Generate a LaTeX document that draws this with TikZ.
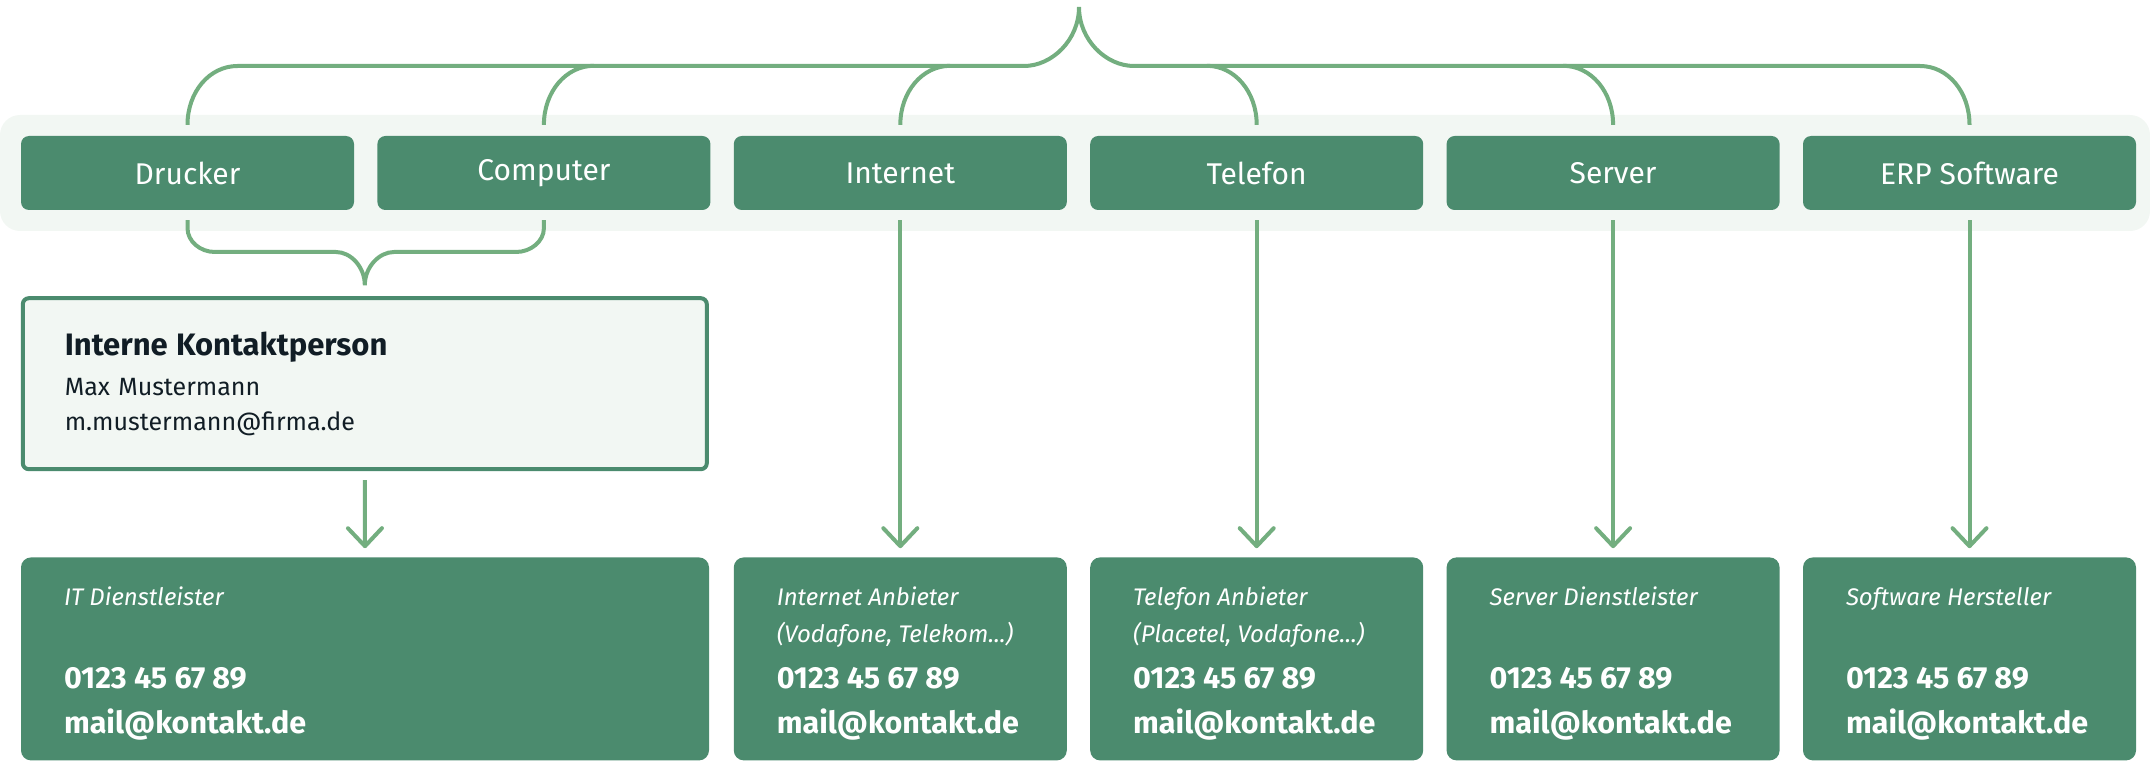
\documentclass[tikz,border=0pt]{standalone}
\usepackage{fontspec}
\setmainfont{Fira Sans}
\usetikzlibrary{positioning,arrows.meta}
\definecolor{boxGreen}{HTML}{4B8B6E}
\definecolor{lineGreen}{HTML}{73AE7F}
\definecolor{paleGreen}{HTML}{F2F7F3}
\definecolor{inkDark}{HTML}{111D25}
\newcommand{\boxGap}[0]{23pt}
\newcommand{\labelSize}[0]{\fontsize{30}{34}\selectfont}
\newcommand{\roleSize}[0]{\fontsize{24}{37}\selectfont}
\newcommand{\reachSize}[0]{\fontsize{30.5}{45}\selectfont}
\newcommand{\titleSize}[0]{\fontsize{31}{36}\selectfont}
\newcommand{\bodySize}[0]{\fontsize{25}{35}\selectfont}

\begin{document}
\begin{tikzpicture}[x=1pt, y=1pt]
  \tikzset{
    topic/.style={fill=boxGreen, text=white, rounded corners=8pt, minimum width=333pt,
      minimum height=74pt, inner sep=0pt, font=\labelSize},
    provider/.style={fill=boxGreen, rounded corners=10pt, minimum width=333pt,
      minimum height=203pt, inner sep=0pt},
    role/.style={text=white, anchor=base west, inner sep=0pt, align=left, font=\roleSize\itshape},
    reach/.style={text=white, anchor=base west, inner sep=0pt, align=left, font=\reachSize\bfseries},
    brace/.style={draw=lineGreen, line width=4pt},
    link/.style={draw=lineGreen, line width=4pt, -{Straight Barb[length=18pt, width=34pt, round]}}
  }
  \useasboundingbox (0,0) rectangle (2150,-762);
  \fill[paleGreen, rounded corners=20pt] (0,-115) rectangle (2150,-231);

  % topics
  \node[topic] (Drucker) at (187.5,-173) {Drucker};
  \node[topic, right=\boxGap of Drucker] (Computer) {Computer};
  \node[topic, right=\boxGap of Computer] (Internet) {Internet};
  \node[topic, right=\boxGap of Internet] (Telefon) {Telefon};
  \node[topic, right=\boxGap of Telefon] (Server) {Server};
  \node[topic, right=\boxGap of Server] (ERP) {ERP Software};

  % internal contact
  \node[fill=paleGreen, draw=boxGreen, line width=4pt, rounded corners=6pt, anchor=north west,
    minimum width=684pt, minimum height=171pt, inner xsep=42pt, text width=600pt,
    align=left, text=inkDark, font=\bodySize] (contact) at ([yshift=-86pt]Drucker.south west)
    {{\titleSize\bfseries Interne Kontaktperson}\\[5pt]Max Mustermann\\m.mustermann@firma.de};

  % providers
  \node[provider, minimum width=688pt, anchor=north west] (prov-1) at ([yshift=-86pt]contact.south west) {};
  \node[provider, below=347pt of Internet] (prov-2) {};
  \node[provider, below=347pt of Telefon] (prov-3) {};
  \node[provider, below=347pt of Server] (prov-4) {};
  \node[provider, below=347pt of ERP] (prov-5) {};

  % base of a two-line node is its last line
  \node[role] (role-1) at ([shift={(43,-48)}]prov-1.north west) {IT Dienstleister};
  \node[role] (role-2) at ([shift={(43,-85)}]prov-2.north west) {Internet Anbieter\\(Vodafone, Telekom...)};
  \node[role] (role-3) at ([shift={(43,-85)}]prov-3.north west) {Telefon Anbieter\\(Placetel, Vodafone...)};
  \node[role] (role-4) at ([shift={(43,-48)}]prov-4.north west) {Server Dienstleister};
  \node[role] (role-5) at ([shift={(43,-48)}]prov-5.north west) {Software Hersteller};

  \node[reach] (reach-1) at ([shift={(43,-176)}]prov-1.north west) {0123 45 67 89\\mail@kontakt.de};
  \node[reach] (reach-2) at ([shift={(43,-176)}]prov-2.north west) {0123 45 67 89\\mail@kontakt.de};
  \node[reach] (reach-3) at ([shift={(43,-176)}]prov-3.north west) {0123 45 67 89\\mail@kontakt.de};
  \node[reach] (reach-4) at ([shift={(43,-176)}]prov-4.north west) {0123 45 67 89\\mail@kontakt.de};
  \node[reach] (reach-5) at ([shift={(43,-176)}]prov-5.north west) {0123 45 67 89\\mail@kontakt.de};

  % braces
  \coordinate (apex) at (1079,-7);
  \draw[brace] ([yshift=11pt]Drucker.north) .. controls +(0,33) and +(-28,0) .. (237.5,-66)
    -- (1024,-66) .. controls +(28,0) and +(0,-33) .. (apex)
    .. controls +(0,-33) and +(-28,0) .. (1134,-66)
    -- (1920,-66) .. controls +(28,0) and +(0,33) .. ([yshift=11pt]ERP.north);
  \draw[brace] ([yshift=11pt]Computer.north) .. controls +(0,33) and +(-28,0) .. ([shift={(50,70)}]Computer.north);
  \draw[brace] ([yshift=11pt]Internet.north) .. controls +(0,33) and +(-28,0) .. ([shift={(50,70)}]Internet.north);
  \draw[brace] ([yshift=11pt]Telefon.north) .. controls +(0,33) and +(28,0) .. ([shift={(-50,70)}]Telefon.north);
  \draw[brace] ([yshift=11pt]Server.north) .. controls +(0,33) and +(28,0) .. ([shift={(-50,70)}]Server.north);

  \coordinate (lowTip) at ([yshift=11pt]contact.north);
  \draw[brace] ([yshift=-10pt]Drucker.south) -- ([yshift=-18pt]Drucker.south)
    .. controls +(0,-13) and +(-15,0) .. (215,-252) -- (336,-252)
    .. controls +(15,0) and +(0,18) .. (lowTip)
    .. controls +(0,18) and +(-15,0) .. (394,-252) -- (516,-252)
    .. controls +(15,0) and +(0,-13) .. ([yshift=-18pt]Computer.south) -- ([yshift=-10pt]Computer.south);

  % links
  \draw[link] ([yshift=-9pt]contact.south) -- ([yshift=9pt]prov-1.north);
  \draw[link] ([yshift=-10pt]Internet.south) -- ([yshift=9pt]prov-2.north);
  \draw[link] ([yshift=-10pt]Telefon.south) -- ([yshift=9pt]prov-3.north);
  \draw[link] ([yshift=-10pt]Server.south) -- ([yshift=9pt]prov-4.north);
  \draw[link] ([yshift=-10pt]ERP.south) -- ([yshift=9pt]prov-5.north);
\end{tikzpicture}
\end{document}
